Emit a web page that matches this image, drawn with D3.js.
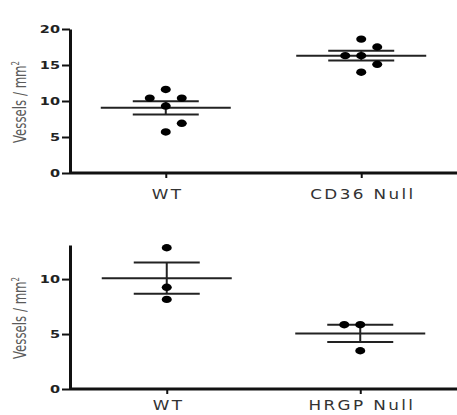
<!DOCTYPE html>
<html lang="en">
<head>
<meta charset="utf-8">
<title>Vessels per mm2</title>
<script src="https://cdnjs.cloudflare.com/ajax/libs/d3/7.8.5/d3.min.js"></script>
<style>
  body { margin: 0; background: #fff; }
  .domain { stroke: #111; stroke-width: 3px; }
  .tick line { stroke: #111; stroke-width: 2px; }
</style>
</head>
<body>
<script>
// top panel
const topGroups = ["WT", "CD36 Null"];
const topValues = [
  [5.7, 6.9, 9.3, 10.4, 10.4, 11.6],
  [14.0, 15.1, 16.3, 16.3, 17.5, 18.6]
];
const topTicks = [0, 5, 10, 15, 20];

// bottom panel
const bottomGroups = ["WT", "HRGP Null"];
const bottomValues = [
  [8.15, 9.25, 12.85],
  [3.48, 5.85, 5.85]
];
const bottomTicks = [0, 5, 10];

const yLabel = "Vessels / mm";

const W = 457, H = 415;
const svg = d3.select("body").append("svg")
  .attr("width", W).attr("height", H);

function drawPanel(groups, values, ticks, yMax, box) {
  const g = svg.append("g");

  const y = d3.scaleLinear().domain([0, yMax]).range([box.bottom, box.top]);
  const x = d3.scalePoint().domain(groups).range([box.left, W]).padding(box.pad);

  // axes
  const ya = g.append("g")
    .attr("transform", `translate(${box.left},0)`)
    .call(d3.axisLeft(y).tickValues(ticks).tickSize(8).tickSizeOuter(0).tickPadding(2));
  ya.selectAll("text")
    .attr("transform", "scale(1.45,1)")
    .attr("x", -10 / 1.45)
    .style("font", "bold 10px 'DejaVu Sans'")
    .attr("fill", "#222");

  const xa = g.append("g")
    .attr("transform", `translate(0,${box.bottom})`)
    .call(d3.axisBottom(x).tickSize(5).tickSizeOuter(0));
  xa.select(".domain").attr("d", `M${box.left},0H${W}`);
  xa.selectAll("text")
    .attr("transform", `translate(0,${box.labelY}) scale(1.2,1)`)
    .attr("y", 0)
    .attr("dy", 0)
    .attr("dx", 1)
    .style("font", "14px 'DejaVu Sans'")
    .style("letter-spacing", "2px")
    .attr("fill", "#333");

  // y label
  const lab = g.append("text")
    .attr("transform", `translate(26,${(box.top + box.bottom) / 2 + 1}) rotate(-90)`)
    .attr("text-anchor", "middle")
    .attr("textLength", 82)
    .attr("lengthAdjust", "spacingAndGlyphs")
    .style("font-family", "'DejaVu Sans Condensed', 'DejaVu Sans'")
    .style("font-stretch", "condensed")
    .style("font-size", "17px")
    .attr("fill", "#5a5a5a")
    .text(yLabel);
  lab.append("tspan").attr("dy", -7).style("font-size", "10px").text("2");

  // points, spread sideways when they would overlap
  const slot = 16, minGap = 9;
  groups.forEach((name, gi) => {
    const cx = x(name);
    const vals = values[gi].slice().sort(d3.ascending);
    const placed = [];
    vals.forEach(v => {
      const py = y(v);
      // a repeated value goes to the left first, anything else to the right
      const order = placed.some(p => p.v === v) ? [0, -1, 1, -2, 2] : [0, 1, -1, 2, -2];
      for (const s of order) {
        if (!placed.some(p => p.s === s && Math.abs(p.py - py) < minGap)) {
          placed.push({ v, py, s });
          break;
        }
      }
    });

    const m = d3.mean(vals);
    const sem = d3.deviation(vals) / Math.sqrt(vals.length);

    g.append("line")
      .attr("x1", cx - 65).attr("x2", cx + 65)
      .attr("y1", y(m)).attr("y2", y(m))
      .attr("stroke", "#222").attr("stroke-width", 2);
    [m - sem, m + sem].forEach(e => {
      g.append("line")
        .attr("x1", cx - 33).attr("x2", cx + 33)
        .attr("y1", y(e)).attr("y2", y(e))
        .attr("stroke", "#222").attr("stroke-width", 2);
    });
    g.append("line")
      .attr("x1", cx).attr("x2", cx)
      .attr("y1", y(m - sem)).attr("y2", y(m + sem))
      .attr("stroke", "#222").attr("stroke-width", 2);

    g.selectAll(null).data(placed).join("ellipse")
      .attr("cx", d => cx + d.s * slot)
      .attr("cy", d => d.py)
      .attr("rx", 5).attr("ry", 3.7)
      .attr("fill", "#000");
  });
}

drawPanel(topGroups, topValues, topTicks, 20, { left: 70, top: 29, bottom: 173, pad: 0.49, labelY: 26 });
drawPanel(bottomGroups, bottomValues, bottomTicks, 13.1, { left: 70, top: 245, bottom: 389, pad: 0.5, labelY: 21 });
</script>
</body>
</html>
